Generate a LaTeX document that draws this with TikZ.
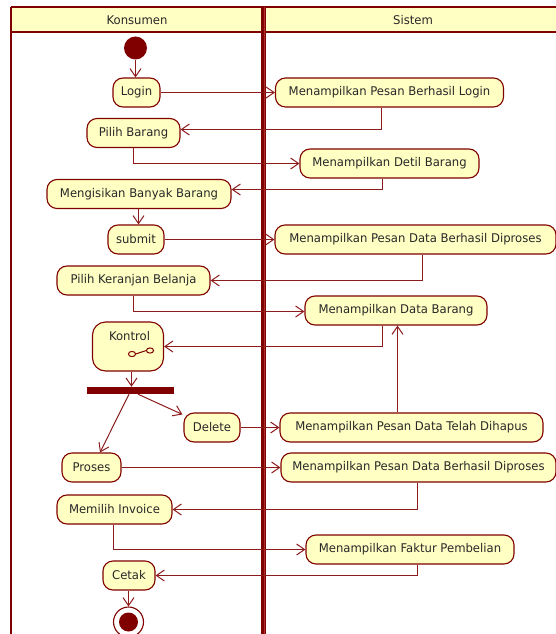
\documentclass[tikz,border=0pt]{standalone}
\usepackage{fontspec}
\setmainfont[FakeStretch=0.97]{DejaVu Sans}
\usetikzlibrary{arrows.meta}

\definecolor{bord}{RGB}{128,0,0}
\definecolor{lnc}{RGB}{140,28,28}
\definecolor{actfill}{RGB}{255,255,196}
\definecolor{txt}{RGB}{40,40,40}

\tikzset{
  act/.style={draw=bord, fill=actfill, line width=1.1pt, rounded corners=10pt,
    minimum height=29pt, inner sep=0pt, text=txt,
    font=\fontsize{12}{14}\selectfont},
  lbl/.style={inner sep=0pt, text=txt, font=\fontsize{12}{14}\selectfont},
  conn/.style={draw=lnc, line width=1pt,
    -{Straight Barb[length=8pt,width=11pt,line width=1pt]}},
  lane/.style={draw=bord, line width=2pt},
}

\begin{document}
\begin{tikzpicture}[x=1pt,y=-1pt]
\useasboundingbox (0,0) rectangle (556,634);

% swimlane frame and headers
\fill[actfill] (11,7) rectangle (556,32);
\draw[lane] (11,7) -- (556,7);
\draw[lane, line width=2.5pt] (11,32) -- (556,32);
\draw[lane] (11,7) -- (11,634);
\draw[draw=bord, line width=5pt] (263.5,7) -- (263.5,634);
\draw[draw={rgb,255:red,176;green,48;blue,48}, line width=0.9pt] (264.2,7) -- (264.2,634);
\node[lbl] (hkons) at (137,20) {Konsumen};
\node[lbl] (hsis) at (413,20) {Sistem};

% initial node
\node[circle, fill=bord, minimum size=23pt, inner sep=0pt] (start) at (135.5,48) {};

% actions
\node[act, minimum width=47pt]  (login)   at (136.5,92.5) {Login};
\node[act, minimum width=228pt] (mpbl)    at (389.5,92.5) {Menampilkan Pesan Berhasil Login};
\node[act, minimum width=93pt]  (pb)      at (133.5,133) {Pilih Barang};
\node[act, minimum width=179pt] (detil)   at (389.5,163.5) {Menampilkan Detil Barang};
\node[act, minimum width=184pt] (mengisi) at (139,194) {Mengisikan Banyak Barang};
\node[act, minimum width=56pt]  (submit)  at (136,239.5) {submit};
\node[act, minimum width=281pt] (mpdbd)   at (415.5,239.5) {Menampilkan Pesan Data Berhasil Diproses};
\node[act, minimum width=153pt] (pk)      at (133.5,280.5) {Pilih Keranjan Belanja};
\node[act, minimum width=182pt] (mdb)     at (396,310.5) {Menampilkan Data Barang};
\node[act, minimum width=71pt, minimum height=49pt, rounded corners=13pt] (kontrol) at (128,346.5) {};
\node[lbl] (kontroltxt) at (129.5,336.5) {Kontrol};
\node[fill=bord, minimum width=87pt, minimum height=7pt, inner sep=0pt] (fork) at (130.5,390.5) {};
\node[act, minimum width=56pt]  (delete)  at (212,427.5) {Delete};
\node[act, minimum width=263pt] (mpdtd)   at (411.5,427.5) {Menampilkan Pesan Data Telah Dihapus};
\node[act, minimum width=59pt]  (proses)  at (91.5,467.5) {Proses};
\node[act, minimum width=275pt] (mpdbd2)  at (418.5,467.5) {Menampilkan Pesan Data Berhasil Diproses};
\node[act, minimum width=115pt] (memilih) at (114.5,509.5) {Memilih Invoice};
\node[act, minimum width=208pt] (faktur)  at (410,549.5) {Menampilkan Faktur Pembelian};
\node[act, minimum width=52pt]  (cetak)   at (129,575.5) {Cetak};

% final node
\node[circle, draw=bord, fill=white, line width=1.1pt, minimum size=30pt, inner sep=0pt] (final) at (128.5,622) {};
\node[circle, fill=bord, minimum size=19pt, inner sep=0pt] (finaldot) at (128.5,622) {};

% sub-activity icon inside Kontrol
\draw[draw=bord, line width=1pt] (kontrol.center) ++(4,7.5) ellipse (3.6pt and 2.6pt)
  ++(3.6,0) -- ++(10.8,-3.5) ++(3.6,0) ellipse (3.6pt and 2.6pt);

% flows
\draw[conn] (start) -- (start |- login.north);
\draw[conn] (login) -- (mpbl);
\draw[conn] ([xshift=-8pt]mpbl.south) |- ([yshift=3.5pt]pb.east);
\draw[conn] (pb.south) |- (detil);
\draw[conn] ([xshift=-7pt]detil.south) |- ([yshift=4.5pt]mengisi.east);
\draw[conn] ([xshift=-0.5pt]mengisi.south) -- ([xshift=-0.5pt]mengisi.south |- submit.north);
\draw[conn] (submit) -- (mpdbd);
\draw[conn] ([xshift=7pt]mpdbd.south) |- (pk);
\draw[conn] (pk.south) |- ([yshift=-1pt]mdb.west);
\draw[conn] ([xshift=-13.5pt]mdb.south) |- (kontrol);
\draw[conn] ([xshift=3.5pt]kontrol.south) -- ([xshift=3.5pt]kontrol.south |- fork.north);
\draw[conn] ([xshift=7.5pt]fork.south) -- ([xshift=-1pt,yshift=-2pt]delete.north west);
\draw[conn] ([xshift=-1.5pt]fork.south) -- ([xshift=8.5pt]proses.north);
\draw[conn] (delete) -- (mpdtd);
\draw[conn] ([xshift=-14pt]mpdtd.north) -- ([xshift=-14pt]mpdtd.north |- mdb.south);
\draw[conn] (proses) -- (mpdbd2);
\draw[conn] ([xshift=-1pt]mpdbd2.south) |- (memilih);
\draw[conn] ([xshift=-1pt]memilih.south) |- (faktur);
\draw[conn] ([xshift=7.5pt]faktur.south) |- (cetak);
\draw[conn] (cetak.south -| final) -- (final.north);
\end{tikzpicture}
\end{document}
